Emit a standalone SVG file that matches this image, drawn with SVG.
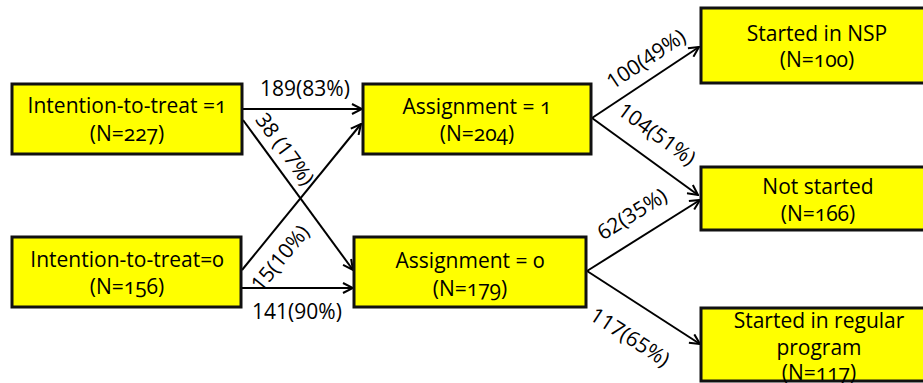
<svg xmlns="http://www.w3.org/2000/svg" width="923" height="383" viewBox="0 0 923 383">
<style>
.box{fill:#ffff00;stroke:#111;stroke-width:3}
.t{font-family:"Open Sans","DejaVu Sans",sans-serif;font-size:21px;fill:#000;text-anchor:middle;font-variant-numeric:oldstyle-nums}
.c{stroke:#000;stroke-width:2;fill:none}
.l{font-family:"Open Sans","DejaVu Sans",sans-serif;font-size:21px;fill:#000;text-anchor:middle}
</style>
<defs>
<marker id="ah" viewBox="0 0 12 12" refX="11" refY="6" markerWidth="12" markerHeight="12" markerUnits="userSpaceOnUse" orient="auto">
<path d="M1,1 L11,6 L1,11" fill="none" stroke="#000" stroke-width="2"/>
</marker>
</defs>
<g id="connectors">
<line class="c" x1="242" y1="109" x2="362" y2="109" marker-end="url(#ah)"/>
<line class="c" x1="243" y1="120" x2="353" y2="270" marker-end="url(#ah)"/>
<line class="c" x1="242" y1="270" x2="361" y2="124" marker-end="url(#ah)"/>
<line class="c" x1="241" y1="288" x2="353" y2="288" marker-end="url(#ah)"/>
<line class="c" x1="592" y1="118" x2="699" y2="47" marker-end="url(#ah)"/>
<line class="c" x1="592" y1="118" x2="698" y2="195" marker-end="url(#ah)"/>
<line class="c" x1="587" y1="271" x2="700" y2="200" marker-end="url(#ah)"/>
<line class="c" x1="587" y1="271" x2="700" y2="344" marker-end="url(#ah)"/>
<text class="l" x="305" y="96">189(83%)</text>
<text class="l" x="297" y="319">141(90%)</text>
<text class="l" x="285" y="149" dy="0.35em" transform="rotate(53.7 285 149)">38 (17%)</text>
<text class="l" x="280" y="258" dy="0.35em" transform="rotate(-50.7 280 258)">15(10%)</text>
<text class="l" x="646" y="59" dy="0.35em" transform="rotate(-33.6 646 59)">100(49%)</text>
<text class="l" x="657" y="134" dy="0.35em" transform="rotate(36 657 134)">104(51%)</text>
<text class="l" x="632" y="214" dy="0.35em" transform="rotate(-32 632 214)">62(35%)</text>
<text class="l" x="630" y="337" dy="0.35em" transform="rotate(32.9 630 337)">117(65%)</text>
</g>
<g id="itt1">
<rect class="box" x="12" y="84" width="230" height="70"/>
<text class="t" x="127" y="113">Intention-to-treat =1</text>
<text class="t" x="127" y="141">(N=227)</text>
</g>
<g id="itt0">
<rect class="box" x="12" y="237" width="229" height="70"/>
<text class="t" x="127" y="267">Intention-to-treat=0</text>
<text class="t" x="127" y="294">(N=156)</text>
</g>
<g id="assign1">
<rect class="box" x="363" y="84" width="228" height="70"/>
<text class="t" x="477" y="114">Assignment = 1</text>
<text class="t" x="477" y="141">(N=204)</text>
</g>
<g id="assign0">
<rect class="box" x="354" y="237" width="232" height="70"/>
<text class="t" x="470" y="268">Assignment = 0</text>
<text class="t" x="470" y="296">(N=179)</text>
</g>
<g id="nsp">
<rect class="box" x="701" y="8" width="240" height="75"/>
<text class="t" x="817" y="41">Started in NSP</text>
<text class="t" x="817" y="67">(N=100)</text>
</g>
<g id="notstarted">
<rect class="box" x="701" y="167" width="240" height="63"/>
<text class="t" x="818" y="194">Not started</text>
<text class="t" x="818" y="221">(N=166)</text>
</g>
<g id="regular">
<rect class="box" x="701" y="308" width="240" height="73"/>
<text class="t" x="819" y="328">Started in regular</text>
<text class="t" x="819" y="355">program</text>
<text class="t" x="819" y="380">(N=117)</text>
</g>
</svg>
